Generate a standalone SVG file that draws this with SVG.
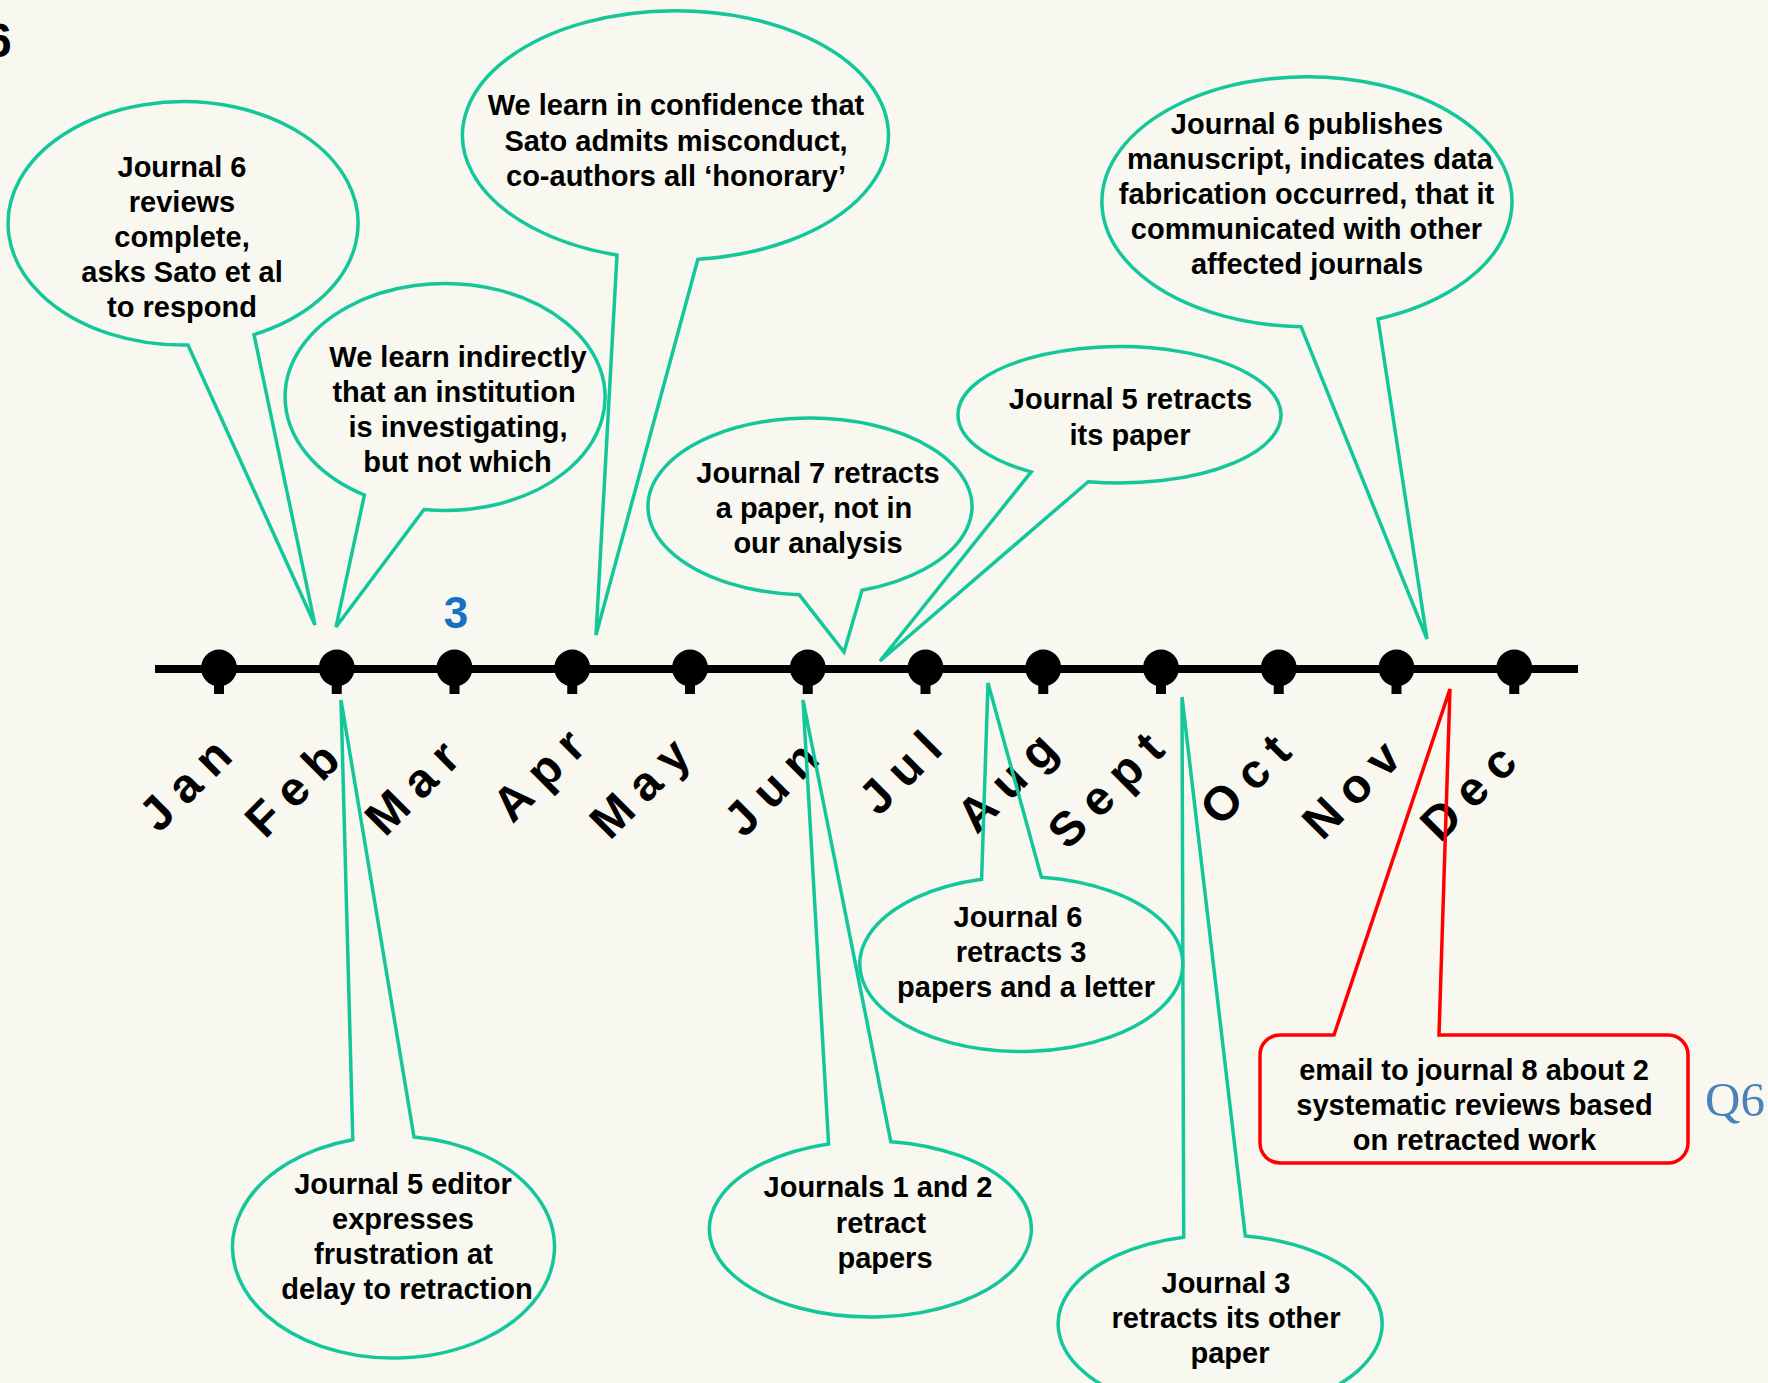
<svg xmlns="http://www.w3.org/2000/svg" width="1768" height="1383" viewBox="0 0 1768 1383">
<defs>
<style>
.bg{fill:#f8f8f0}
.bub{fill:none;stroke:#14c79b;stroke-width:3.5}
.red{fill:none;stroke:#ff0000;stroke-width:3.5}
.t{font-family:"Liberation Sans",Arial,sans-serif;font-weight:bold;font-size:29px;fill:#000;text-anchor:middle}
.m{font-family:"Liberation Sans",Arial,sans-serif;font-weight:bold;font-size:48px;letter-spacing:12px;fill:#000;text-anchor:middle}
.dot{fill:#000}
</style>
<g id="pin"><ellipse cx="0" cy="-1" rx="18" ry="18.5"/><rect x="-5" y="10" width="10" height="15"/></g>
</defs>
<rect class="bg" x="0" y="0" width="1768" height="1383"/>
<text x="-15" y="57" style="font-family:'Liberation Sans',Arial,sans-serif;font-weight:bold;font-size:48px;fill:#000">6</text>

<g id="months">
<text class="m" transform="translate(201 792) rotate(-45)">Jan</text>
<text class="m" transform="translate(308 797) rotate(-45)">Feb</text>
<text class="m" transform="translate(428 795) rotate(-45)">Mar</text>
<text class="m" transform="translate(554.5 782.5) rotate(-45)">Apr</text>
<text class="m" transform="translate(655.5 795.5) rotate(-45)">May</text>
<text class="m" transform="translate(787 796) rotate(-45)">Jun</text>
<text class="m" transform="translate(916 780) rotate(-45)">Jul</text>
<text class="m" transform="translate(1022.5 789.5) rotate(-45)">Aug</text>
<text class="m" transform="translate(1121.5 797.5) rotate(-45)">Sept</text>
<text class="m" transform="translate(1261 787) rotate(-45)">Oct</text>
<text class="m" transform="translate(1367 797) rotate(-45)">Nov</text>
<text class="m" transform="translate(1484 800) rotate(-45)">Dec</text>
</g>

<g id="connectors">
<line x1="155" y1="669" x2="1578" y2="669" stroke="#000" stroke-width="8"/>
<g class="dot">
<use href="#pin" x="219" y="669"/>
<use href="#pin" x="336.75" y="669"/>
<use href="#pin" x="454.5" y="669"/>
<use href="#pin" x="572.25" y="669"/>
<use href="#pin" x="690" y="669"/>
<use href="#pin" x="807.75" y="669"/>
<use href="#pin" x="925.5" y="669"/>
<use href="#pin" x="1043.25" y="669"/>
<use href="#pin" x="1161" y="669"/>
<use href="#pin" x="1278.75" y="669"/>
<use href="#pin" x="1396.5" y="669"/>
<use href="#pin" x="1514.25" y="669"/>
</g>
</g>

<text x="456" y="628" style="font-family:'Liberation Sans',Arial,sans-serif;font-weight:bold;font-size:44px;fill:#1670c4;text-anchor:middle">3</text>

<g id="n1">
<path class="bub" d="M254 334.6 A175 121.7 0 1 0 188 345 L315 625 Z"/>
<text class="t" x="182" y="177">Journal 6</text>
<text class="t" x="182" y="212">reviews</text>
<text class="t" x="182" y="247">complete,</text>
<text class="t" x="182" y="282">asks Sato et al</text>
<text class="t" x="182" y="317">to respond</text>
</g>

<g id="n2">
<path class="bub" d="M424 509.5 A160 113.5 0 1 0 364.4 495 L336 627 Z"/>
<text class="t" x="458" y="367">We learn indirectly</text>
<text class="t" x="454" y="402">that an institution</text>
<text class="t" x="458" y="437">is investigating,</text>
<text class="t" x="457.5" y="472">but not which</text>
</g>

<g id="n3">
<path class="bub" d="M697.9 259.2 A213 124.6 0 1 0 617 255.1 L596 635 Z"/>
<text class="t" x="676" y="115">We learn in confidence that</text>
<text class="t" x="676" y="151">Sato admits misconduct,</text>
<text class="t" x="676" y="186">co-authors all ‘honorary’</text>
</g>

<g id="n4">
<path class="bub" d="M862 590.3 A162 88.5 0 1 0 799.3 594.8 L844 652 Z"/>
<text class="t" x="818" y="483">Journal 7 retracts</text>
<text class="t" x="814" y="518">a paper, not in</text>
<text class="t" x="818" y="553">our analysis</text>
</g>

<g id="n5">
<path class="bub" d="M1088.2 481.7 A161.5 68.2 0 1 0 1031.2 471.9 L880 661 Z"/>
<text class="t" x="1130.5" y="409">Journal 5 retracts</text>
<text class="t" x="1130" y="445">its paper</text>
</g>

<g id="n6">
<path class="bub" d="M1378 319 A205 125 0 1 0 1301 326.7 L1427 639 Z"/>
<text class="t" x="1307" y="134">Journal 6 publishes</text>
<text class="t" x="1310" y="169">manuscript, indicates data</text>
<text class="t" x="1306.5" y="203.5">fabrication occurred, that it</text>
<text class="t" x="1306.5" y="239">communicated with other</text>
<text class="t" x="1307" y="274">affected journals</text>
</g>

<g id="n7">
<path class="bub" d="M352.8 1139.7 A161 111 0 1 0 414 1137 L341 700 Z"/>
<text class="t" x="403" y="1194">Journal 5 editor</text>
<text class="t" x="403" y="1229">expresses</text>
<text class="t" x="403.4" y="1264">frustration at</text>
<text class="t" x="407" y="1299">delay to retraction</text>
</g>

<g id="n8">
<path class="bub" d="M828.6 1144 A161 88 0 1 0 890.8 1141.7 L803 700 Z"/>
<text class="t" x="878" y="1197">Journals 1 and 2</text>
<text class="t" x="881" y="1233">retract</text>
<text class="t" x="885" y="1268">papers</text>
</g>

<g id="n9">
<path class="bub" d="M981.6 879.2 A161.5 87.5 0 1 0 1041.4 877.2 L988 683 Z"/>
<text class="t" x="1018" y="927">Journal 6</text>
<text class="t" x="1021" y="962">retracts 3</text>
<text class="t" x="1026" y="997">papers and a letter</text>
</g>

<g id="n10">
<path class="bub" d="M1183.7 1237.2 A162 89 0 1 0 1245.3 1236 L1182 697 Z"/>
<text class="t" x="1226" y="1293">Journal 3</text>
<text class="t" x="1226" y="1328">retracts its other</text>
<text class="t" x="1230" y="1363">paper</text>
</g>

<g id="n11">
<path class="red" d="M1334 1035 L1450 689 L1439 1035 H1668 A20 20 0 0 1 1688 1055 V1143 A20 20 0 0 1 1668 1163 H1280 A20 20 0 0 1 1260 1143 V1055 A20 20 0 0 1 1280 1035 Z"/>
<text class="t" x="1474" y="1080">email to journal 8 about 2</text>
<text class="t" x="1474.5" y="1115">systematic reviews based</text>
<text class="t" x="1474.5" y="1150">on retracted work</text>
</g>

<text x="1705" y="1116" style="font-family:'Liberation Serif','Times New Roman',serif;font-size:49px;fill:#4a82ba">Q6</text>
</svg>
